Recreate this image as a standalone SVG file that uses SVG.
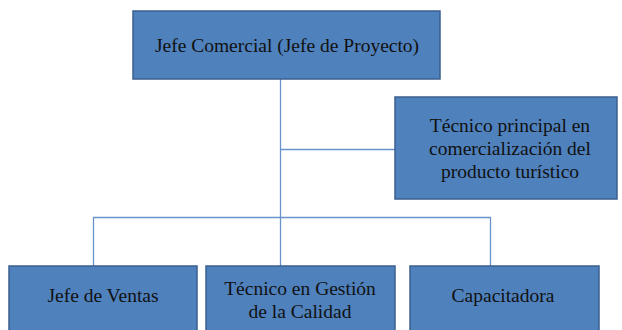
<svg xmlns="http://www.w3.org/2000/svg" width="622" height="330" viewBox="0 0 622 330">
<style>
.box{fill:#4F81BD;stroke:#3A5F8F;stroke-width:1.5}
.lbl{font-family:"Liberation Serif","Times New Roman",serif;font-size:19.5px;fill:#111;text-anchor:middle}
.ln{fill:none;stroke:#6A93CB;stroke-width:1.3}
</style>
<rect width="622" height="330" fill="#fff"/>
<g id="connectors">
<path class="ln" d="M280.5 79 V217.5"/>
<path class="ln" d="M280.5 149.5 H395"/>
<path class="ln" d="M93.5 266 V217.5 H490.5 V266"/>
<path class="ln" d="M280.5 217.5 V266"/>
</g>
<g id="jefe-comercial">
<rect class="box" x="133" y="11" width="307" height="68"/>
<text class="lbl" x="287" y="52">Jefe Comercial (Jefe de Proyecto)</text>
</g>
<g id="tecnico-principal">
<rect class="box" x="395" y="97" width="222" height="102"/>
<text class="lbl" x="510" y="132">Técnico principal en</text>
<text class="lbl" x="510" y="155">comercialización del</text>
<text class="lbl" x="510" y="178">producto turístico</text>
</g>
<g id="jefe-ventas">
<rect class="box" x="9" y="266" width="188" height="70"/>
<text class="lbl" x="103" y="302">Jefe de Ventas</text>
</g>
<g id="tecnico-calidad">
<rect class="box" x="206" y="266" width="189" height="70"/>
<text class="lbl" x="300" y="295">Técnico en Gestión</text>
<text class="lbl" x="300" y="318">de la Calidad</text>
</g>
<g id="capacitadora">
<rect class="box" x="410" y="266" width="189" height="70"/>
<text class="lbl" x="503" y="302">Capacitadora</text>
</g>
</svg>
